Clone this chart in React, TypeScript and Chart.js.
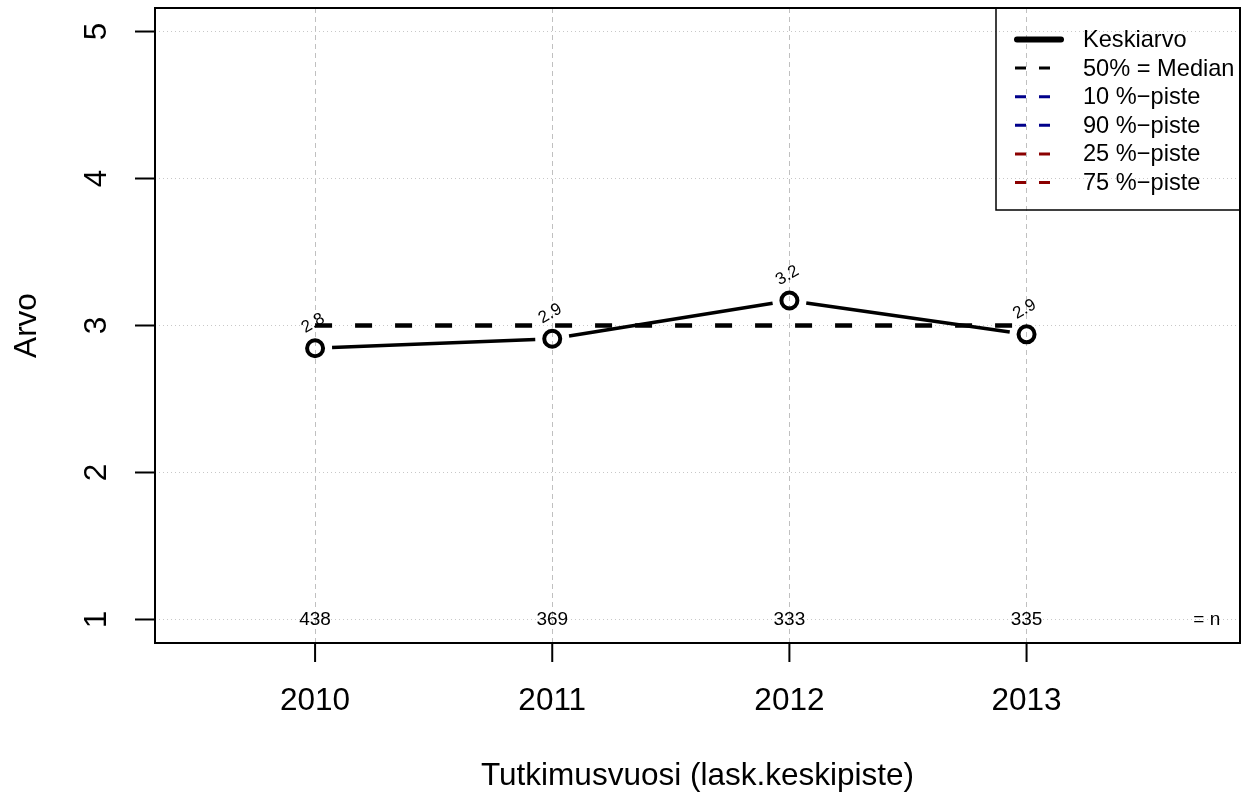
import React, { useEffect, useRef } from "react";
import { Chart, registerables } from "chart.js";

Chart.register(...registerables);

// ---- Data ----
const years = [2010, 2011, 2012, 2013];
const meanValues = [2.845, 2.91, 3.17, 2.94];
const meanLabels = ["2.8", "2.9", "3.2", "2.9"];
const medianValues = [3, 3, 3, 3];
const p10Values: (number | null)[] = [null, null, null, null];
const p90Values: (number | null)[] = [null, null, null, null];
const p25Values: (number | null)[] = [null, null, null, null];
const p75Values: (number | null)[] = [null, null, null, null];
const nCounts = [438, 369, 333, 335];
const nLabelSuffix = "= n";
const yTickValues = [1, 2, 3, 4, 5];
const xTickValues = [2010, 2011, 2012, 2013];
const seriesLabels = ["Keskiarvo", "50% = Median", "10 %\u2212piste", "90 %\u2212piste", "25 %\u2212piste", "75 %\u2212piste"];
const xTitle = "Tutkimusvuosi (lask.keskipiste)";
const yTitle = "Arvo";

const FONT = '"Liberation Sans", Arial, Helvetica, sans-serif';
const BLUE = "#00008B";
const RED = "#8B0000";

// plot frame (pixels)
const AREA = { left: 155, top: 8, right: 1240, bottom: 643 };

const toXY = (vals: (number | null)[]) => years.map((x, i) => ({ x, y: vals[i] }));

const decorPlugin = {
  id: "decor",
  afterLayout(chart: any) {
    const a = AREA;
    chart.chartArea = { left: a.left, top: a.top, right: a.right, bottom: a.bottom, width: a.right - a.left, height: a.bottom - a.top };
    const xs = chart.scales.x;
    const ys = chart.scales.y;
    xs.left = a.left; xs.right = a.right; xs.width = a.right - a.left;
    xs.top = a.bottom; xs.bottom = a.bottom; xs.height = 0;
    ys.top = a.top; ys.bottom = a.bottom; ys.height = a.bottom - a.top;
    ys.left = a.left; ys.right = a.left; ys.width = 0;
    xs.configure();
    ys.configure();
  },
  beforeDatasetsDraw(chart: any) {
    // mean line drawn with gaps around the points (R type="b")
    const meta = chart.getDatasetMeta(0);
    const pts = meta.data;
    const ctx = chart.ctx;
    ctx.save();
    ctx.strokeStyle = "#000";
    ctx.lineWidth = 3.5;
    ctx.lineCap = "butt";
    const gap = 17;
    for (let i = 0; i < pts.length - 1; i++) {
      const a = pts[i], b = pts[i + 1];
      const dx = b.x - a.x, dy = b.y - a.y;
      const len = Math.hypot(dx, dy);
      const ux = dx / len, uy = dy / len;
      ctx.beginPath();
      ctx.moveTo(a.x + ux * gap, a.y + uy * gap);
      ctx.lineTo(b.x - ux * gap, b.y - uy * gap);
      ctx.stroke();
    }
    ctx.restore();
  },
  afterDraw(chart: any) {
    const ctx = chart.ctx;
    const area = chart.chartArea;
    const xs = chart.scales.x;
    const ys = chart.scales.y;
    ctx.save();

    // plot box
    ctx.strokeStyle = "#000";
    ctx.lineWidth = 2;
    ctx.setLineDash([]);
    ctx.strokeRect(area.left, area.top, area.right - area.left, area.bottom - area.top);

    // x ticks and labels
    ctx.fillStyle = "#000";
    ctx.font = `31.5px ${FONT}`;
    ctx.textAlign = "center";
    ctx.textBaseline = "middle";
    xTickValues.forEach((v) => {
      const px = xs.getPixelForValue(v);
      ctx.beginPath();
      ctx.moveTo(px, area.bottom);
      ctx.lineTo(px, area.bottom + 19);
      ctx.stroke();
      ctx.fillText(String(v), px, 701);
    });

    // y ticks and labels (rotated)
    yTickValues.forEach((v) => {
      const py = ys.getPixelForValue(v);
      ctx.beginPath();
      ctx.moveTo(area.left, py);
      ctx.lineTo(area.left - 20, py);
      ctx.stroke();
      ctx.save();
      ctx.translate(97, py);
      ctx.rotate(-Math.PI / 2);
      ctx.fillText(String(v), 0, 0);
      ctx.restore();
    });

    // axis titles
    ctx.fillText(xTitle, (area.left + area.right) / 2, 776);
    ctx.save();
    ctx.translate(27, (area.top + area.bottom) / 2);
    ctx.rotate(-Math.PI / 2);
    ctx.fillText(yTitle, 0, 0);
    ctx.restore();

    // n labels
    ctx.font = `19px ${FONT}`;
    const ny = ys.getPixelForValue(1);
    years.forEach((yr, i) => {
      ctx.fillText(String(nCounts[i]), xs.getPixelForValue(yr), ny);
    });
    ctx.fillText(nLabelSuffix, xs.getPixelForValue(2013.76), ny);

    // mean value labels (rotated)
    ctx.font = `17px ${FONT}`;
    const meta = chart.getDatasetMeta(0);
    meta.data.forEach((p: any, i: number) => {
      ctx.save();
      ctx.translate(p.x - 2, p.y - 25);
      ctx.rotate(-Math.PI / 6);
      ctx.fillText(meanLabels[i], 0, 0);
      ctx.restore();
    });

    // legend
    const lx0 = 996, ly0 = area.top, lx1 = area.right, ly1 = 210;
    ctx.lineWidth = 1.5;
    ctx.strokeStyle = "#000";
    ctx.strokeRect(lx0, ly0, lx1 - lx0, ly1 - ly0);
    ctx.font = `23.6px ${FONT}`;
    ctx.textAlign = "left";
    const rowY0 = 39.5, rowStep = 28.6;
    chart.data.datasets.forEach((ds: any, i: number) => {
      const ry = rowY0 + i * rowStep;
      ctx.save();
      ctx.strokeStyle = ds.borderColor;
      if (i === 0) {
        ctx.lineWidth = 6;
        ctx.lineCap = "round";
        ctx.setLineDash([]);
        ctx.beginPath();
        ctx.moveTo(1017, ry);
        ctx.lineTo(1061, ry);
        ctx.stroke();
      } else {
        ctx.lineWidth = 3;
        ctx.lineCap = "butt";
        ctx.setLineDash([11, 13]);
        ctx.beginPath();
        ctx.moveTo(1015, ry);
        ctx.lineTo(1063, ry);
        ctx.stroke();
      }
      ctx.restore();
      ctx.fillStyle = "#000";
      ctx.fillText(ds.label, 1083, ry + 1);
    });

    ctx.restore();
  },
};

export default function App() {
  const canvasRef = useRef<HTMLCanvasElement | null>(null);

  useEffect(() => {
    const canvas = canvasRef.current;
    if (!canvas) return;
    const chart = new Chart(canvas, {
      type: "line",
      data: {
        datasets: [
          {
            label: seriesLabels[0],
            data: toXY(meanValues),
            borderColor: "#000",
            backgroundColor: "rgba(0,0,0,0)",
            showLine: false,
            pointRadius: 8,
            pointBorderWidth: 4,
            pointBackgroundColor: "rgba(0,0,0,0)",
            pointBorderColor: "#000",
          },
          {
            label: seriesLabels[1],
            data: toXY(medianValues),
            borderColor: "#000",
            borderWidth: 4.5,
            borderDash: [17, 23],
            pointRadius: 0,
            fill: false,
          },
          { label: seriesLabels[2], data: toXY(p10Values), borderColor: BLUE, borderWidth: 3, borderDash: [17, 23], pointRadius: 0 },
          { label: seriesLabels[3], data: toXY(p90Values), borderColor: BLUE, borderWidth: 3, borderDash: [17, 23], pointRadius: 0 },
          { label: seriesLabels[4], data: toXY(p25Values), borderColor: RED, borderWidth: 3, borderDash: [17, 23], pointRadius: 0 },
          { label: seriesLabels[5], data: toXY(p75Values), borderColor: RED, borderWidth: 3, borderDash: [17, 23], pointRadius: 0 },
        ],
      },
      options: {
        responsive: false,
        animation: false,
        devicePixelRatio: 1,
        layout: { padding: { left: 155, right: 4, top: 8, bottom: 152 } },
        plugins: { legend: { display: false }, tooltip: { enabled: false } },
        scales: {
          x: {
            type: "linear",
            min: 2009.325,
            max: 2013.9,
            afterBuildTicks: (s: any) => {
              s.ticks = xTickValues.map((v) => ({ value: v }));
            },
            ticks: { display: false },
            grid: { color: "#c0c0c0", lineWidth: 1, drawTicks: false },
            border: { display: false, dash: [5, 4] },
          },
          y: {
            type: "linear",
            min: 0.84,
            max: 5.16,
            afterBuildTicks: (s: any) => {
              s.ticks = yTickValues.map((v) => ({ value: v }));
            },
            ticks: { display: false },
            grid: { color: "#c8c8c8", lineWidth: 1, drawTicks: false },
            border: { display: false, dash: [1, 3] },
          },
        },
      },
      plugins: [decorPlugin],
    } as any);
    return () => chart.destroy();
  }, []);

  return (
    <div style={{ position: "fixed", left: 0, top: 0, width: 1244, height: 795, background: "#fff" }}>
      <canvas ref={canvasRef} width={1244} height={795} style={{ display: "block" }} />
    </div>
  );
}
